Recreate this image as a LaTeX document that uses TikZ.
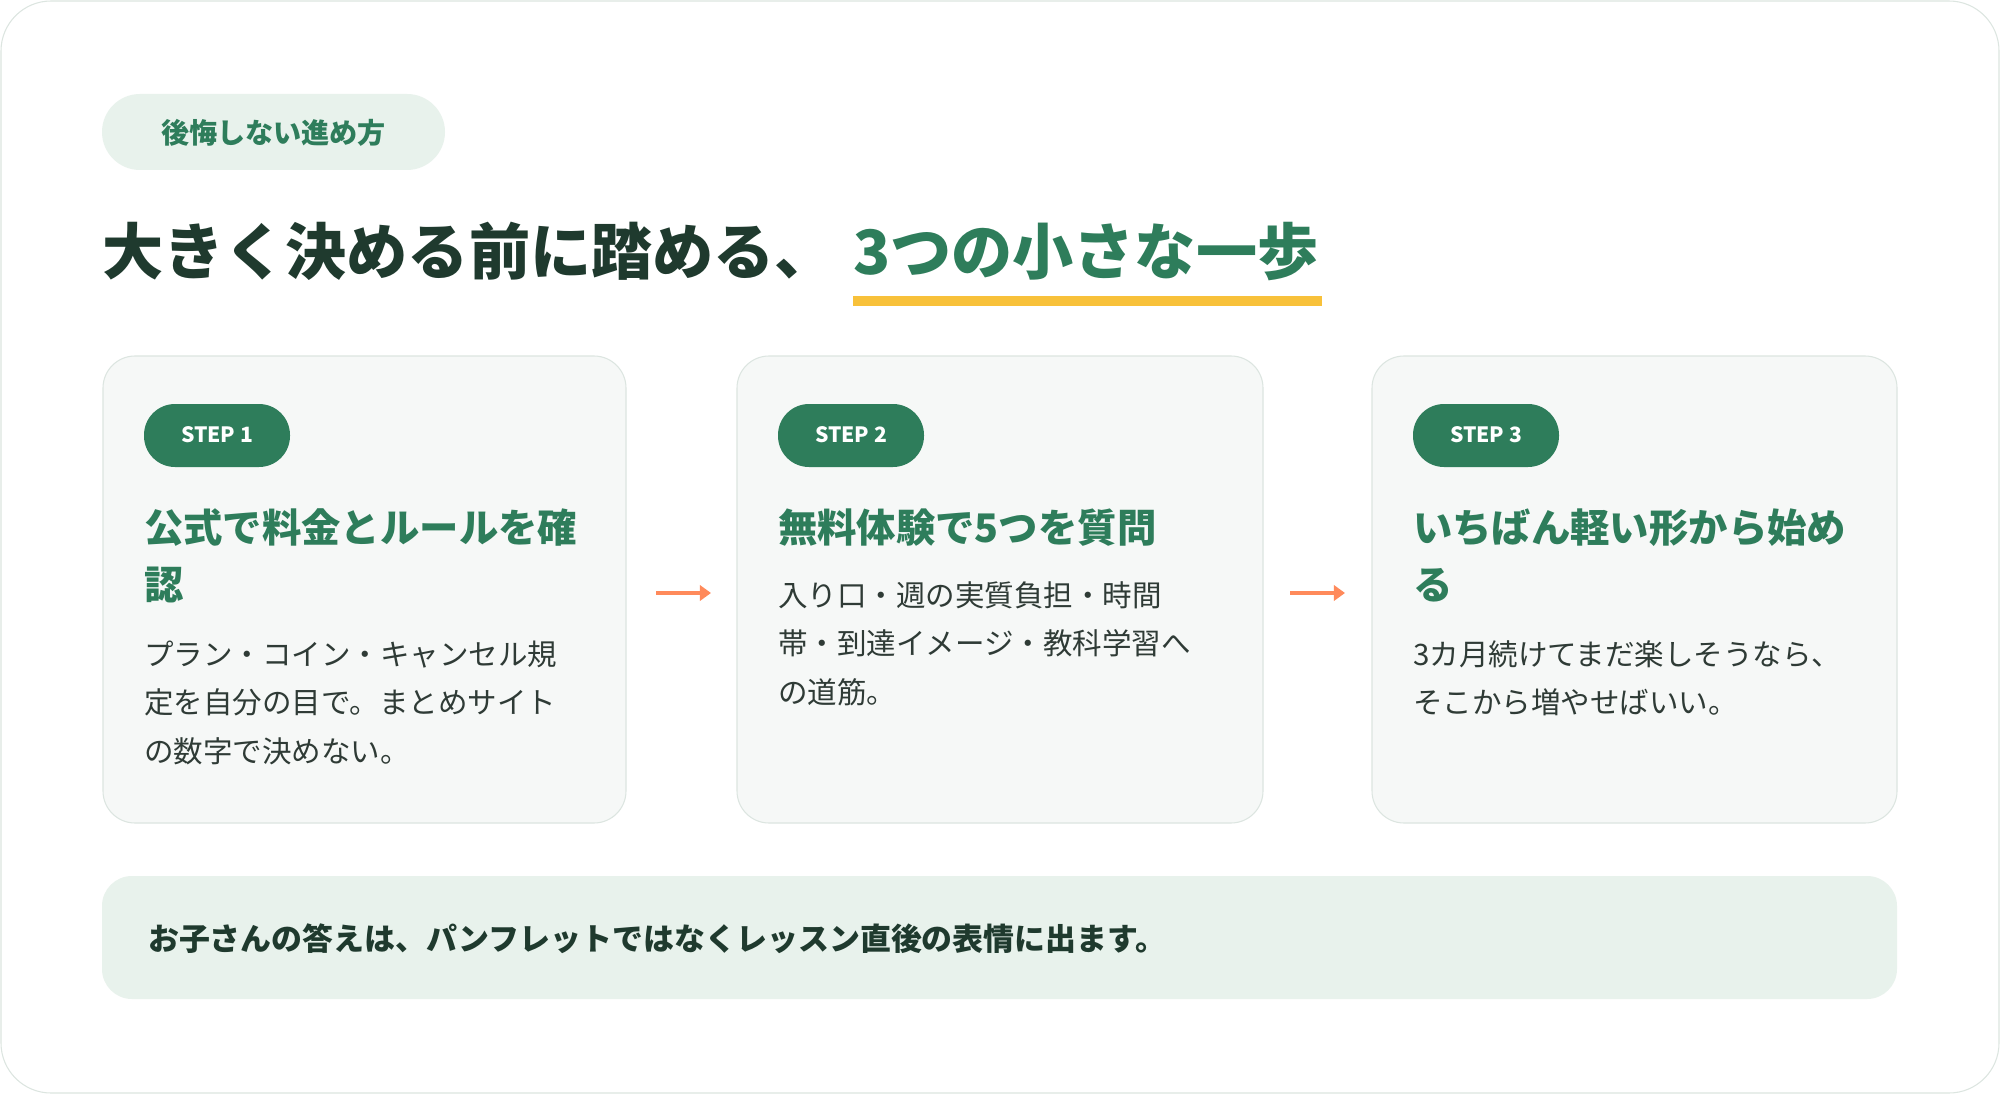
\documentclass[tikz,border=0pt]{standalone}
\usepackage{fontspec}
\setmainfont{Noto Sans CJK JP}
\usetikzlibrary{arrows.meta}
\definecolor{gr}{HTML}{2E7D5B}
\definecolor{lgr}{HTML}{E8F2EC}
\definecolor{dk}{HTML}{1F3A2E}
\definecolor{bd}{HTML}{2F3B36}
\definecolor{cardf}{HTML}{F6F8F7}
\definecolor{cardb}{HTML}{DCE5E0}
\definecolor{org}{HTML}{FF8A5B}
\definecolor{yl}{HTML}{F8C13A}
\newcommand{\fs}[2]{\fontsize{#1pt}{#2pt}\selectfont}
\begin{document}
\begin{tikzpicture}[x=0.05cm,y=-0.05cm,
 card/.style={draw=cardb,line width=1.5pt,fill=cardf,rounded corners=32*0.05cm},
 pill/.style={fill=gr,rounded corners=31*0.05cm},
 steplbl/.style={text=white,font=\fs{30}{36}\bfseries},
 head/.style={anchor=base west,text=gr,align=left,font=\fs{56}{81}\bfseries,inner sep=0},
 body/.style={anchor=base west,text=bd,align=left,font=\fs{42}{69},inner sep=0},
 arr/.style={-{Triangle[length=16pt,width=22pt]},org,line width=6pt}]
\draw[draw=cardb,line width=1.5pt,fill=white,rounded corners=50*0.05cm] (1,1) rectangle (1999,1093);
\useasboundingbox (0,0) rectangle (2000,1094);
% tag
\fill[lgr,rounded corners=38*0.05cm] (102,94) rectangle (445,170);
\node[text=gr,font=\fs{40}{48}\bfseries] (tag) at (273.5,133) {後悔しない進め方};
% title
\node[anchor=base west,inner sep=0,text=dk,font=\fs{87}{100}\bfseries] (t1) at (102,274) {大きく決める前に踏める、};
\node[anchor=base west,inner sep=0,text=gr,font=\fs{87}{100}\bfseries] (t2) at (853,274) {3つの小さな一歩};
\fill[yl] (853,296) rectangle (1322,306);
% cards
\foreach \i/\x/\w in {1/103/523,2/737/526,3/1372/525}{
 \draw[card] (\x,356) rectangle ++(\w,467);
 \fill[pill] (\x+41,404) rectangle ++(146,63);
 \node[steplbl] (s\i) at (\x+114,435) {STEP \i};
}
% anchor base = last line baseline
\node[head] (h1) at (144,599) {公式で料金とルールを確\\認};
\node[body] (b1) at (144,762) {プラン・コイン・キャンセル規\\定を自分の目で。まとめサイト\\の数字で決めない。};
\node[head] (h2) at (778,542) {無料体験で5つを質問};
\node[body] (b2) at (778,703) {入り口・週の実質負担・時間\\帯・到達イメージ・教科学習へ\\の道筋。};
\node[head] (h3) at (1413,599) {いちばん軽い形から始め\\る};
\node[body] (b3) at (1413,713.5) {3カ月続けてまだ楽しそうなら、\\そこから増やせばいい。};
\coordinate (a1) at (656,593); \coordinate (a1e) at (711,593);
\coordinate (a2) at (1290,593); \coordinate (a2e) at (1345,593);
\draw[arr] (a1) -- (a1e);
\draw[arr] (a2) -- (a2e);
% bottom band
\fill[lgr,rounded corners=30*0.05cm] (102,876) rectangle (1897,999);
\node[anchor=west,inner sep=0,text=dk,font=\fs{44}{50}\bfseries] (note) at (148,939) {お子さんの答えは、パンフレットではなくレッスン直後の表情に出ます。};
\end{tikzpicture}
\end{document}
